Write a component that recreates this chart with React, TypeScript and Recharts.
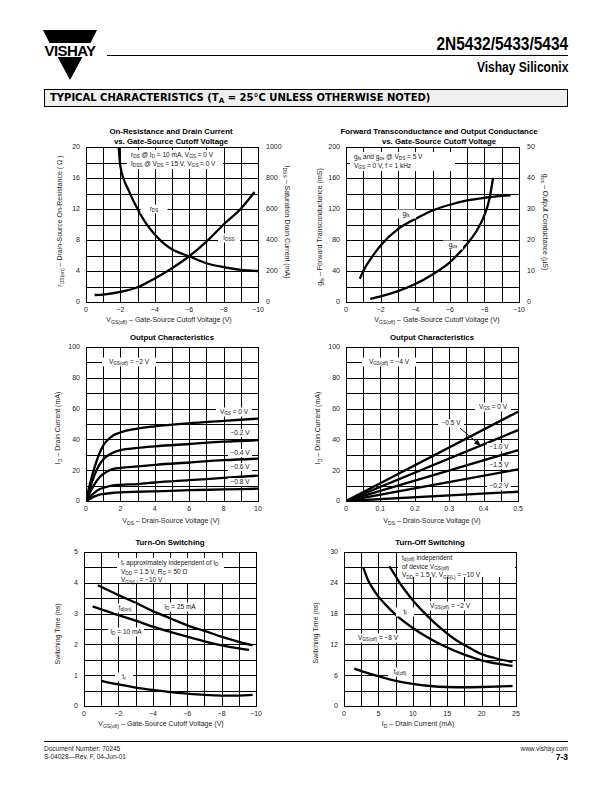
import React from 'react';
import { LineChart, Line, XAxis, YAxis } from 'recharts';

const FONT = '"Liberation Sans", Arial, Helvetica, sans-serif';

// On-Resistance and Drain Current vs. VGS(off)
const rdsVgs = [-1.9, -2, -2.5, -3, -3.5, -4, -4.5, -5, -6, -7, -8, -9, -10];
const rdsOn = [20, 17.5, 14.3, 12, 10.1, 8.7, 7.6, 6.8, 5.9, 5.0, 4.5, 4.15, 4.0];
const idssVgs = [-0.5, -1, -2, -3, -4, -5, -6, -7, -8, -9, -9.8];
const idss = [45, 48, 65, 95, 152, 218, 295, 390, 500, 602, 710];

// Forward transconductance and output conductance vs. VGS(off)
const gfsVgs = [-0.8, -1, -1.5, -2, -3, -4, -5, -6, -7, -8, -9, -9.5];
const gfs = [30, 40, 58, 73, 94, 107, 118, 125.5, 131, 134.5, 137, 137.5];
const gosVgs = [-1.4, -2, -3, -4, -5, -6, -7, -7.5, -8, -8.3, -8.5];
const gos = [1, 1.8, 3.5, 5.8, 8.9, 12.8, 18.8, 22.5, 28, 33.5, 40];

// Output characteristics, VGS(off) = -2 V
const vdsA = [0, 0.25, 0.5, 0.75, 1, 1.5, 2, 3, 4, 6, 8, 10];
const idA0 = [0, 12, 22, 30, 36, 42, 44.5, 47, 48.5, 50.5, 52, 53.5];
const idA02 = [0, 9, 17, 23, 27, 31, 33, 34.5, 35.5, 37, 38.5, 39.5];
const idA04 = [0, 6, 11, 15, 17.5, 20.5, 21.5, 22.5, 23.5, 25, 26.5, 27.5];
const idA06 = [0, 3, 5.5, 7.5, 8.5, 10, 10.5, 11, 12, 13.5, 15, 16.5];
const idA08 = [0, 1.5, 3, 4, 4.5, 5.2, 5.6, 6, 6.3, 7, 7.5, 8];

// Output characteristics, VGS(off) = -4 V
const vdsB = [0, 0.5];
const idB0 = [0, 58];
const idB05 = [0, 46];
const idB10 = [0, 33];
const idB15 = [0, 20.5];
const idB20 = [0, 6];

// Turn-on switching
const tdon25Vgs = [-0.8, -2, -3, -4, -5, -6, -7, -8, -9, -9.8];
const tdon25 = [3.92, 3.6, 3.35, 3.08, 2.85, 2.62, 2.44, 2.25, 2.08, 1.97];
const tdon10Vgs = [-0.5, -1, -2, -3, -4, -5, -6, -7, -8, -9, -9.6];
const tdon10 = [3.23, 3.14, 2.95, 2.77, 2.58, 2.41, 2.25, 2.1, 1.97, 1.87, 1.82];
const trVgs = [-1, -2, -3, -4, -5, -6, -7, -8, -9, -9.8];
const tr = [0.82, 0.7, 0.6, 0.52, 0.45, 0.4, 0.36, 0.34, 0.34, 0.36];

// Turn-off switching
const tf2Id = [6.6, 7.5, 8, 9, 10, 12, 14, 16, 18, 20, 22, 24.5];
const tf2 = [27.2, 25.3, 24.2, 22.3, 20.6, 17.7, 15.2, 13.1, 11.5, 10.1, 9.3, 8.6];
const tf8Id = [2.8, 3.5, 4, 5, 6, 7.5, 10, 12.5, 15, 17.5, 20, 22.5, 24.5];
const tf8 = [27, 24.5, 23.3, 21.3, 19.8, 17.8, 15.2, 13.1, 11.4, 10, 8.9, 8.2, 7.8];
const tdoffId = [1.5, 3, 5, 7.5, 10, 12.5, 15, 17.5, 20, 22.5, 24.5];
const tdoff = [7.3, 6.6, 5.8, 4.9, 4.3, 3.9, 3.7, 3.65, 3.7, 3.8, 3.9];

// axis ticks (grid line on every tick, label on some)
const vgsTicks = [0, -1, -2, -3, -4, -5, -6, -7, -8, -9, -10];
const rdsTicks = [0, 2, 4, 6, 8, 10, 12, 14, 16, 18, 20];
const idssTicks = [0, 100, 200, 300, 400, 500, 600, 700, 800, 900, 1000];
const gfsTicks = [0, 20, 40, 60, 80, 100, 120, 140, 160, 180, 200];
const gosTicks = [0, 5, 10, 15, 20, 25, 30, 35, 40, 45, 50];
const vdsTicksA = [0, 1, 2, 3, 4, 5, 6, 7, 8, 9, 10];
const vdsTicksB = [0, 0.05, 0.1, 0.15, 0.2, 0.25, 0.3, 0.35, 0.4, 0.45, 0.5];
const idTicks = [0, 10, 20, 30, 40, 50, 60, 70, 80, 90, 100];
const tonTicks = [0, 0.5, 1, 1.5, 2, 2.5, 3, 3.5, 4, 4.5, 5];
const idOffTicks = [0, 2.5, 5, 7.5, 10, 12.5, 15, 17.5, 20, 22.5, 25];
const toffTicks = [0, 3, 6, 9, 12, 15, 18, 21, 24, 27, 30];

type Curve = { xs: number[]; ys: number[]; right?: boolean };

// merge curves into one table keyed by x: { x, s0, s1, ... }
const buildRows = (curves: Curve[]) => {
  const xsAll = Array.from(new Set(curves.flatMap((c) => c.xs))).sort((a, b) => a - b);
  return xsAll.map((x) => {
    const row: Record<string, number> = { x };
    curves.forEach((c, i) => {
      const k = c.xs.indexOf(x);
      if (k >= 0) row['s' + i] = c.ys[k];
    });
    return row;
  });
};

const every = (n: number) => (v: number) =>
  Math.abs(Math.round(v * 1000)) % Math.round(n * 1000) === 0 ? (v < 0 ? '\u2212' + Math.abs(v) : String(v)) : '';

const tickStyle = { fontSize: 7, fill: '#222', fontFamily: FONT };

type Rect = { x: number; y: number; w: number; h: number };
type AxisCfg = { domain: number[]; ticks: number[]; fmt: (v: number) => string; reversed?: boolean };

// grid behind the plot, one line per axis tick
function Grid({ r, xa, ya }: { r: Rect; xa: AxisCfg; ya: AxisCfg }) {
  const [x0, x1] = xa.domain;
  const [y0, y1] = ya.domain;
  const px = (v: number) => {
    const f = (v - x0) / (x1 - x0);
    return Math.round((xa.reversed ? 1 - f : f) * r.w) + 0.5;
  };
  const py = (v: number) => Math.round(r.h - ((v - y0) / (y1 - y0)) * r.h) + 0.5;
  return (
    <svg width={r.w + 2} height={r.h + 2} style={{ position: 'absolute', left: r.x - 0.5, top: r.y - 0.5 }}>
      {xa.ticks.map((t) => <line key={'x' + t} x1={px(t)} x2={px(t)} y1={0} y2={r.h + 1} stroke="#000" strokeWidth={1} />)}
      {ya.ticks.map((t) => <line key={'y' + t} x1={0} x2={r.w + 1} y1={py(t)} y2={py(t)} stroke="#000" strokeWidth={1} />)}
    </svg>
  );
}

function Panel({ r, xa, ya, ya2, curves }: { r: Rect; xa: AxisCfg; ya: AxisCfg; ya2?: AxisCfg; curves: Curve[] }) {
  const rows = buildRows(curves);
  return (
    <>
      <Grid r={r} xa={xa} ya={ya} />
      <div style={{ position: 'absolute', left: r.x - 40, top: r.y - 8 }}>
        <LineChart width={r.w + 80} height={r.h + 30} data={rows} margin={{ top: 8, right: ya2 ? 0 : 40, bottom: 0, left: 0 }}>
          <XAxis dataKey="x" type="number" domain={xa.domain} ticks={xa.ticks} tickFormatter={xa.fmt} reversed={!!xa.reversed}
            interval={0} tickLine={false} axisLine={false} tickSize={0} tickMargin={5} height={22} tick={tickStyle} allowDataOverflow />
          <YAxis type="number" domain={ya.domain} ticks={ya.ticks} tickFormatter={ya.fmt} interval={0}
            tickLine={false} axisLine={false} tickSize={0} tickMargin={6} width={40} tick={tickStyle} allowDataOverflow />
          {ya2 && (
            <YAxis yAxisId="r" orientation="right" type="number" domain={ya2.domain} ticks={ya2.ticks} tickFormatter={ya2.fmt} interval={0}
              tickLine={false} axisLine={false} tickSize={0} tickMargin={8} width={40} tick={tickStyle} allowDataOverflow />
          )}
          {curves.map((c, i) => (
            <Line key={i} dataKey={'s' + i} yAxisId={c.right ? 'r' : 0} type="monotone" stroke="#000" connectNulls
              strokeWidth={2.3} dot={false} activeDot={false} isAnimationActive={false} />
          ))}
        </LineChart>
      </div>
    </>
  );
}

const S = ({ children }: { children: React.ReactNode }) => (
  <span style={{ fontSize: '0.72em', position: 'relative', top: '0.3em' }}>{children}</span>
);

// white-backed text centred at (x, y)
const Lbl = ({ x, y, w, children }: { x: number; y: number; w?: number; children: React.ReactNode }) => (
  <div style={{ position: 'absolute', left: x, top: y, transform: 'translate(-50%, -50%)', background: '#fff', width: w,
    textAlign: 'center', fontSize: 6.5, lineHeight: '8px', whiteSpace: 'nowrap', color: '#111' }}>{children}</div>
);

const Box = ({ x, y, w, h, children }: { x: number; y: number; w: number; h: number; children: React.ReactNode }) => (
  <div style={{ position: 'absolute', left: x, top: y, width: w, height: h, background: '#fff', fontSize: 6.5,
    lineHeight: '7.6px', whiteSpace: 'nowrap', color: '#111', paddingLeft: 4, paddingTop: 1, boxSizing: 'border-box' }}>{children}</div>
);

const Title = ({ x, y, children }: { x: number; y: number; children: React.ReactNode }) => (
  <div style={{ position: 'absolute', left: x, top: y, transform: 'translate(-50%, -50%)', fontSize: 7.8, fontWeight: 'bold',
    lineHeight: '10px', textAlign: 'center', whiteSpace: 'nowrap', color: '#000' }}>{children}</div>
);

const AxT = ({ x, y, rot = 0, children }: { x: number; y: number; rot?: number; children: React.ReactNode }) => (
  <div style={{ position: 'absolute', left: x, top: y, transform: `translate(-50%, -50%) rotate(${rot}deg)`, fontSize: 7,
    whiteSpace: 'nowrap', color: '#222', lineHeight: '9px' }}>{children}</div>
);

export default function App() {
  const M = '\u2212';
  return (
    <div style={{ position: 'absolute', left: 0, top: 0, width: 612, height: 792, fontFamily: FONT }}>
      {/* header */}
      <svg width={612} height={110} style={{ position: 'absolute', left: 0, top: 0 }}>
        <polygon points="43,30 97,30 90.5,43 49.5,43" fill="#000" />
        <polygon points="57.6,57 82.4,57 70,80" fill="#000" />
        <text x={70} y={56} textAnchor="middle" fontFamily={FONT} fontWeight="bold" fontSize={15} letterSpacing={-0.6} fill="#000">VISHAY</text>
        <line x1={107} y1={55.5} x2={568} y2={55.5} stroke="#000" strokeWidth={1.2} />
      </svg>
      <div style={{ position: 'absolute', right: 44, top: 35, fontWeight: 'bold', fontSize: 18, lineHeight: '18px',
        transform: 'scaleX(0.86)', transformOrigin: 'right center' }}>2N5432/5433/5434</div>
      <div style={{ position: 'absolute', right: 44, top: 60, fontWeight: 'bold', fontSize: 14, lineHeight: '14px',
        transform: 'scaleX(0.86)', transformOrigin: 'right center' }}>Vishay Siliconix</div>
      <div style={{ position: 'absolute', left: 44, top: 89, width: 524, height: 18, boxSizing: 'border-box', border: '1px solid #000',
        background: '#efefef', fontFamily: '"DejaVu Sans", sans-serif', fontWeight: 'bold', fontSize: 10, lineHeight: '16px', paddingLeft: 5 }}>
        TYPICAL CHARACTERISTICS (T<S>A</S> = 25{'\u00b0'}C UNLESS OTHERWISE NOTED)
      </div>

      {/* chart 1 */}
      <Title x={171} y={137}>On-Resistance and Drain Current<br />vs. Gate-Source Cutoff Voltage</Title>
      <Panel r={{ x: 86, y: 147, w: 172, h: 155 }}
        xa={{ domain: [-10, 0], ticks: vgsTicks, fmt: every(2), reversed: true }}
        ya={{ domain: [0, 20], ticks: rdsTicks, fmt: every(4) }}
        ya2={{ domain: [0, 1000], ticks: idssTicks, fmt: every(200) }}
        curves={[{ xs: rdsVgs, ys: rdsOn }, { xs: idssVgs, ys: idss, right: true }]} />
      <Box x={127} y={150} w={96} h={19}>
        r<S>DS</S> @ I<S>D</S> = 10 mA, V<S>GS</S> = 0 V<br />I<S>DSS</S> @ V<S>DS</S> = 15 V, V<S>GS</S> = 0 V
      </Box>
      <Lbl x={154} y={209} w={27}>r<S>DS</S></Lbl>
      <Lbl x={229} y={238} w={22}>I<S>DSS</S></Lbl>
      <AxT x={60} y={221} rot={-90}>r<S>DS(on)</S> – Drain-Source On-Resistance ( {'\u03a9'} )</AxT>
      <AxT x={287} y={222} rot={90}>I<S>DSS</S> – Saturation Drain Current (mA)</AxT>
      <AxT x={169} y={320}>V<S>GS(off)</S> – Gate-Source Cutoff Voltage (V)</AxT>

      {/* chart 2 */}
      <Title x={439} y={137}>Forward Transconductance and Output Conductance<br />vs. Gate-Source Cutoff Voltage</Title>
      <Panel r={{ x: 346, y: 147, w: 173, h: 155 }}
        xa={{ domain: [-10, 0], ticks: vgsTicks, fmt: every(2), reversed: true }}
        ya={{ domain: [0, 200], ticks: gfsTicks, fmt: every(40) }}
        ya2={{ domain: [0, 50], ticks: gosTicks, fmt: every(10) }}
        curves={[{ xs: gfsVgs, ys: gfs }, { xs: gosVgs, ys: gos, right: true }]} />
      <Box x={350} y={152} w={105} h={19}>
        g<S>fs</S> and g<S>os</S> @ V<S>DS</S> = 5 V<br />V<S>GS</S> = 0 V, f = 1 kHz
      </Box>
      <Lbl x={406} y={214} w={20}>g<S>fs</S></Lbl>
      <Lbl x={453} y={245} w={20}>g<S>os</S></Lbl>
      <AxT x={320} y={227} rot={-90}>g<S>fs</S> – Forward Transconductance (mS)</AxT>
      <AxT x={545} y={222} rot={90}>g<S>os</S> – Output Conductance ({'\u00b5'}S)</AxT>
      <AxT x={437} y={320}>V<S>GS(off)</S> – Gate-Source Cutoff Voltage (V)</AxT>

      {/* chart 3 */}
      <Title x={172} y={338}>Output Characteristics</Title>
      <Panel r={{ x: 86, y: 347, w: 172, h: 154 }}
        xa={{ domain: [0, 10], ticks: vdsTicksA, fmt: every(2) }}
        ya={{ domain: [0, 100], ticks: idTicks, fmt: every(20) }}
        curves={[{ xs: vdsA, ys: idA0 }, { xs: vdsA, ys: idA02 }, { xs: vdsA, ys: idA04 },
          { xs: vdsA, ys: idA06 }, { xs: vdsA, ys: idA08 }]} />
      <Lbl x={129} y={362} w={54}>V<S>GS(off)</S> = {M}2 V</Lbl>
      <Lbl x={234} y={412} w={36}>V<S>GS</S> = 0 V</Lbl>
      <Lbl x={240} y={433} w={24}>{M}0.2 V</Lbl>
      <Lbl x={240} y={453} w={24}>{M}0.4 V</Lbl>
      <Lbl x={240} y={467} w={24}>{M}0.6 V</Lbl>
      <Lbl x={240} y={482} w={24}>{M}0.8 V</Lbl>
      <AxT x={58} y={428} rot={-90}>I<S>D</S> – Drain Current (mA)</AxT>
      <AxT x={171} y={521}>V<S>DS</S> – Drain-Source Voltage (V)</AxT>

      {/* chart 4 */}
      <Title x={432} y={338}>Output Characteristics</Title>
      <Panel r={{ x: 346, y: 347, w: 172, h: 154 }}
        xa={{ domain: [0, 0.5], ticks: vdsTicksB, fmt: every(0.1) }}
        ya={{ domain: [0, 100], ticks: idTicks, fmt: every(20) }}
        curves={[{ xs: vdsB, ys: idB0 }, { xs: vdsB, ys: idB05 }, { xs: vdsB, ys: idB10 },
          { xs: vdsB, ys: idB15 }, { xs: vdsB, ys: idB20 }]} />
      <Lbl x={389} y={362} w={54}>V<S>GS(off)</S> = {M}4 V</Lbl>
      <Lbl x={493} y={407} w={36}>V<S>GS</S> = 0 V</Lbl>
      <Lbl x={451} y={423} w={26}>{M}0.5 V</Lbl>
      <svg width={612} height={792} style={{ position: 'absolute', left: 0, top: 0, pointerEvents: 'none' }}>
        <line x1={460} y1={428} x2={477} y2={442.5} stroke="#000" strokeWidth={1} />
        <polygon points="481,446 474,443.5 477.5,439.5" fill="#000" />
      </svg>
      <Lbl x={499} y={447} w={24}>{M}1.0 V</Lbl>
      <Lbl x={499} y={465} w={24}>{M}1.5 V</Lbl>
      <Lbl x={499} y={486} w={24}>{M}0.2 V</Lbl>
      <AxT x={318} y={428} rot={-90}>I<S>D</S> – Drain Current (mA)</AxT>
      <AxT x={432} y={521}>V<S>DS</S> – Drain-Source Voltage (V)</AxT>

      {/* chart 5 */}
      <Title x={170} y={543}>Turn-On Switching</Title>
      <Panel r={{ x: 84, y: 552, w: 172, h: 154 }}
        xa={{ domain: [-10, 0], ticks: vgsTicks, fmt: every(2), reversed: true }}
        ya={{ domain: [0, 5], ticks: tonTicks, fmt: every(1) }}
        curves={[{ xs: tdon25Vgs, ys: tdon25 }, { xs: tdon10Vgs, ys: tdon10 }, { xs: trVgs, ys: tr }]} />
      <Box x={117} y={558} w={107} h={25}>
        t<S>r</S> approximately independent of I<S>D</S><br />V<S>DD</S> = 1.5 V, R<S>G</S> = 50 {'\u03a9'}<br />V<S>GS(L)</S> = {M}10 V
      </Box>
      <Lbl x={125} y={608} w={22}>t<S>d(on)</S></Lbl>
      <Lbl x={180} y={607} w={38}>I<S>D</S> = 25 mA</Lbl>
      <Lbl x={126} y={632} w={36}>I<S>D</S> = 10 mA</Lbl>
      <Lbl x={124} y={677} w={18}>t<S>r</S></Lbl>
      <AxT x={57} y={634} rot={-90}>Switching Time (ns)</AxT>
      <AxT x={161} y={724}>V<S>GS(off)</S> – Gate-Source Cutoff Voltage (V)</AxT>

      {/* chart 6 */}
      <Title x={430} y={543}>Turn-Off Switching</Title>
      <Panel r={{ x: 344, y: 552, w: 172, h: 154 }}
        xa={{ domain: [0, 25], ticks: idOffTicks, fmt: every(5) }}
        ya={{ domain: [0, 30], ticks: toffTicks, fmt: every(6) }}
        curves={[{ xs: tf2Id, ys: tf2 }, { xs: tf8Id, ys: tf8 }, { xs: tdoffId, ys: tdoff }]} />
      <Box x={398} y={553} w={117} h={24}>
        t<S>d(off)</S> independent<br />of device V<S>GS(off)</S><br />V<S>DD</S> = 1.5 V, V<S>GS(L)</S> = {M}10 V
      </Box>
      <Lbl x={450} y={606} w={50}>V<S>GS(off)</S> = {M}2 V</Lbl>
      <Lbl x={405} y={612} w={18}>t<S>f</S></Lbl>
      <Lbl x={378} y={638} w={46}>V<S>GS(off)</S> = {M}8 V</Lbl>
      <Lbl x={400} y={672} w={24}>t<S>d(off)</S></Lbl>
      <AxT x={315} y={633} rot={-90}>Switching Time (ns)</AxT>
      <AxT x={418} y={724}>I<S>D</S> – Drain Current (mA)</AxT>

      {/* footer */}
      <div style={{ position: 'absolute', left: 44, top: 741, width: 524, borderTop: '1px solid #000' }} />
      <div style={{ position: 'absolute', left: 44, top: 745, fontSize: 6.5, lineHeight: '8px', color: '#222' }}>
        Document Number:  70245<br />S-04028{'\u2014'}Rev. F, 04-Jun-01
      </div>
      <div style={{ position: 'absolute', right: 44, top: 745, fontSize: 6.5, lineHeight: '8px', color: '#222', textAlign: 'right' }}>
        www.vishay.com<br /><span style={{ fontWeight: 'bold', fontSize: 8.5, color: '#000' }}>7-3</span>
      </div>
    </div>
  );
}
